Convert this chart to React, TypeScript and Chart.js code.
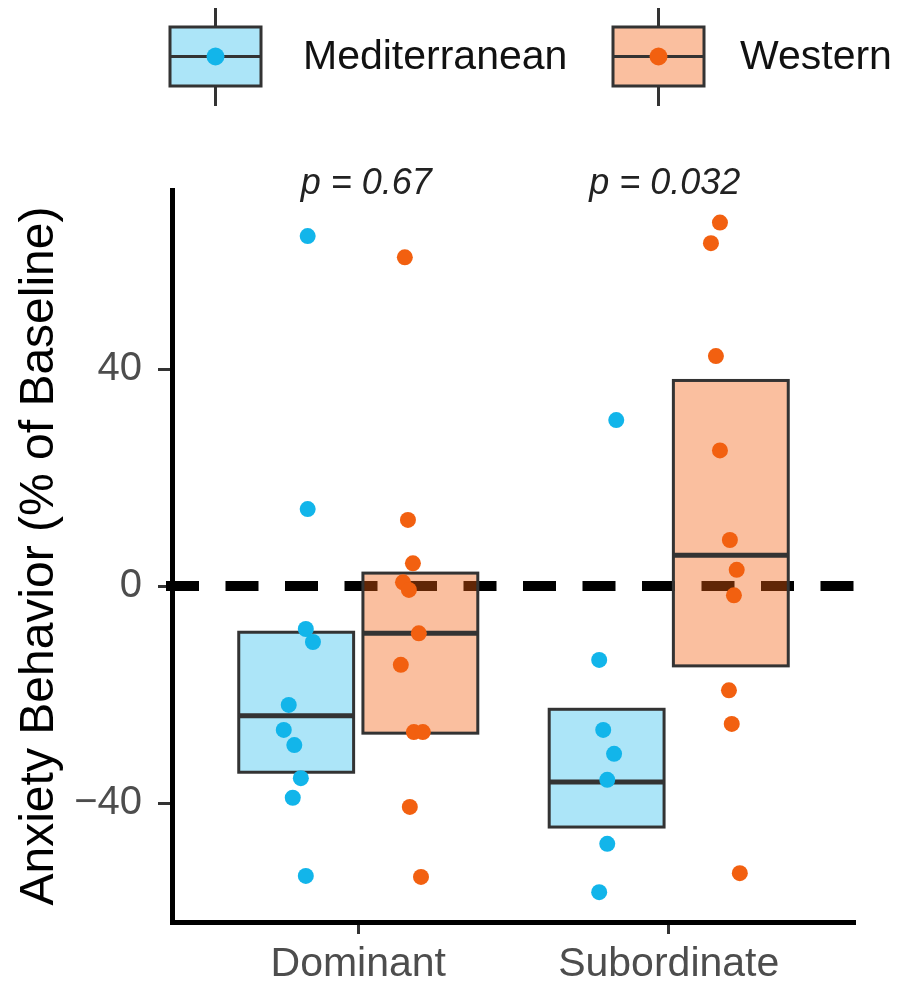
import React, { useEffect, useRef } from 'react';
import { Chart, registerables } from 'chart.js';

Chart.register(...registerables);

const categories = ['Dominant', 'Subordinate'];
const groups = ['Mediterranean', 'Western'];
const yTickValues = [-40, 0, 40];
const pLabels = ['p = 0.67', 'p = 0.032'];

// box stats per category: lower hinge, median, upper hinge
const medLower = [-34.3, -44.4];
const medMedian = [-23.9, -36.1];
const medUpper = [-8.5, -22.7];
const wesLower = [-27.1, -14.7];
const wesMedian = [-8.7, 5.7];
const wesUpper = [2.4, 37.9];

// individual observations (values) and their horizontal jitter (category units)
const medDominant = [64.5, 14.2, -7.9, -10.3, -21.9, -26.5, -29.3, -35.4, -39.0, -53.4];
const medDominantJitter = [0.037, 0.037, 0.031, 0.054, -0.024, -0.04, -0.006, 0.015, -0.011, 0.031];
const wesDominant = [60.6, 12.2, 4.2, 0.7, -0.7, -8.7, -14.5, -26.9, -26.9, -40.7, -53.6];
const wesDominantJitter = [-0.05, -0.04, -0.024, -0.056, -0.037, -0.005, -0.063, -0.021, 0.008, -0.034, 0.002];
const medSubordinate = [30.6, -13.6, -26.5, -30.9, -35.7, -47.5, -56.4];
const medSubordinateJitter = [0.031, -0.024, -0.011, 0.024, 0.002, 0.002, -0.024];
const wesSubordinate = [67.0, 63.2, 42.4, 25.0, 8.5, 3.0, -1.7, -19.2, -25.4, -52.9];
const wesSubordinateJitter = [-0.035, -0.064, -0.048, -0.035, -0.003, 0.019, 0.01, -0.006, 0.003, 0.029];

const BLUE = '#12B5EA';
const ORANGE = '#F26010';
const BLUE_FILL = 'rgba(18,181,234,0.35)';
const ORANGE_FILL = 'rgba(242,96,16,0.4)';
const FONT = '"Liberation Sans", Arial, Helvetica, sans-serif';
const DODGE = 0.2;
const HALF_BOX = 0.185;

function toPoints(values: number[], jitter: number[], catIndex: number, groupIndex: number) {
  const center = catIndex + 1 + (groupIndex === 0 ? -DODGE : DODGE);
  return values.map((v, i) => ({ x: center + jitter[i], y: v }));
}

const boxPlugin = {
  id: 'boxes',
  beforeDatasetsDraw(chart: any) {
    const { ctx, chartArea, scales } = chart;
    const xs = scales.x;
    const ys = scales.y;
    ctx.save();
    // reference line at 0
    const y0 = ys.getPixelForValue(0);
    ctx.strokeStyle = '#000';
    ctx.lineWidth = 10;
    ctx.setLineDash([33, 26.5]);
    ctx.beginPath();
    ctx.moveTo(chartArea.left - 6, y0);
    ctx.lineTo(chartArea.right, y0);
    ctx.stroke();
    ctx.setLineDash([]);

    const stats = [
      { lower: medLower, median: medMedian, upper: medUpper, fill: BLUE_FILL },
      { lower: wesLower, median: wesMedian, upper: wesUpper, fill: ORANGE_FILL },
    ];
    stats.forEach((s, g) => {
      categories.forEach((_, i) => {
        const c = i + 1 + (g === 0 ? -DODGE : DODGE);
        const x1 = xs.getPixelForValue(c - HALF_BOX);
        const x2 = xs.getPixelForValue(c + HALF_BOX);
        const yTop = ys.getPixelForValue(s.upper[i]);
        const yBot = ys.getPixelForValue(s.lower[i]);
        const yMed = ys.getPixelForValue(s.median[i]);
        ctx.fillStyle = s.fill;
        ctx.fillRect(x1, yTop, x2 - x1, yBot - yTop);
        ctx.strokeStyle = '#333';
        ctx.lineWidth = 3;
        ctx.strokeRect(x1, yTop, x2 - x1, yBot - yTop);
        ctx.lineWidth = 5;
        ctx.beginPath();
        ctx.moveTo(x1, yMed);
        ctx.lineTo(x2, yMed);
        ctx.stroke();
      });
    });
    ctx.restore();
  },
  afterDraw(chart: any) {
    const { ctx, chartArea, scales } = chart;
    const xs = scales.x;
    ctx.save();
    // p-value annotations
    ctx.font = `italic 36px ${FONT}`;
    ctx.fillStyle = '#222';
    ctx.textAlign = 'center';
    ctx.textBaseline = 'middle';
    pLabels.forEach((t, i) => {
      ctx.fillText(t, xs.getPixelForValue(i + 1) + (i === 0 ? 8 : -4), chartArea.top - 6);
    });

    // legend
    const keys = [
      { left: 170, fill: BLUE_FILL, dot: BLUE, textX: 303 },
      { left: 613, fill: ORANGE_FILL, dot: ORANGE, textX: 740 },
    ];
    keys.forEach((k, i) => {
      const w = 91;
      const top = 27;
      const h = 59;
      const cx = k.left + w / 2;
      const cy = top + h / 2;
      ctx.strokeStyle = '#333';
      ctx.lineWidth = 3;
      ctx.beginPath();
      ctx.moveTo(cx, 8);
      ctx.lineTo(cx, top);
      ctx.moveTo(cx, top + h);
      ctx.lineTo(cx, 106);
      ctx.stroke();
      ctx.fillStyle = '#fff';
      ctx.fillRect(k.left, top, w, h);
      ctx.fillStyle = k.fill;
      ctx.fillRect(k.left, top, w, h);
      ctx.strokeRect(k.left, top, w, h);
      ctx.beginPath();
      ctx.moveTo(k.left, cy);
      ctx.lineTo(k.left + w, cy);
      ctx.stroke();
      ctx.fillStyle = k.dot;
      ctx.beginPath();
      ctx.arc(cx, cy, 9, 0, Math.PI * 2);
      ctx.fill();
      ctx.font = `41px ${FONT}`;
      ctx.fillStyle = '#111';
      ctx.textAlign = 'left';
      ctx.textBaseline = 'middle';
      ctx.fillText(groups[i], k.textX, cy + 1);
    });
    ctx.restore();
  },
};

export default function App() {
  const ref = useRef<HTMLCanvasElement | null>(null);
  useEffect(() => {
    document.body.style.margin = '0';
    const canvas = ref.current;
    if (!canvas) return;
    const chart = new Chart(canvas, {
      type: 'scatter',
      data: {
        datasets: [
          {
            label: groups[0],
            data: [
              ...toPoints(medDominant, medDominantJitter, 0, 0),
              ...toPoints(medSubordinate, medSubordinateJitter, 1, 0),
            ],
            backgroundColor: BLUE,
            borderWidth: 0,
            pointRadius: 8,
          },
          {
            label: groups[1],
            data: [
              ...toPoints(wesDominant, wesDominantJitter, 0, 1),
              ...toPoints(wesSubordinate, wesSubordinateJitter, 1, 1),
            ],
            backgroundColor: ORANGE,
            borderWidth: 0,
            pointRadius: 8,
          },
        ],
      },
      options: {
        animation: false,
        responsive: false,
        maintainAspectRatio: false,
        layout: { padding: { top: 190, right: 42, left: 0, bottom: 0 } },
        plugins: { legend: { display: false }, tooltip: { enabled: false } },
        scales: {
          x: {
            type: 'linear',
            min: 0.4,
            max: 2.6,
            afterBuildTicks: (s: any) => {
              s.ticks = categories.map((_, i) => ({ value: i + 1 }));
            },
            afterFit: (s: any) => {
              s.height = 61;
            },
            ticks: {
              callback: (v: any) => categories[Math.round(Number(v)) - 1] ?? '',
              font: { family: FONT, size: 41 },
              color: '#4d4d4d',
              padding: 6,
              maxRotation: 0,
            },
            grid: { drawOnChartArea: false, drawTicks: true, tickLength: 12, tickWidth: 3, tickColor: '#333' },
            border: { display: true, color: '#000', width: 5 },
          },
          y: {
            type: 'linear',
            min: -61.9,
            max: 73,
            afterBuildTicks: (s: any) => {
              s.ticks = yTickValues.map((v) => ({ value: v }));
            },
            afterFit: (s: any) => {
              s.width = 172;
            },
            ticks: {
              callback: (v: any) => (Number(v) < 0 ? '\u2212' + Math.abs(Number(v)) : String(v)),
              font: { family: FONT, size: 40 },
              color: '#4d4d4d',
              padding: 16,
            },
            grid: { drawOnChartArea: false, drawTicks: true, tickLength: 14, tickWidth: 3, tickColor: '#333' },
            border: { display: true, color: '#000', width: 5 },
            title: {
              display: true,
              text: 'Anxiety Behavior (% of Baseline)',
              font: { family: FONT, size: 48 },
              color: '#000',
              padding: { top: 11, bottom: 0 },
            },
          },
        },
      },
      plugins: [boxPlugin],
    } as any);
    return () => chart.destroy();
  }, []);
  return <canvas ref={ref} width={897} height={983} style={{ display: 'block', width: 897, height: 983 }} />;
}
